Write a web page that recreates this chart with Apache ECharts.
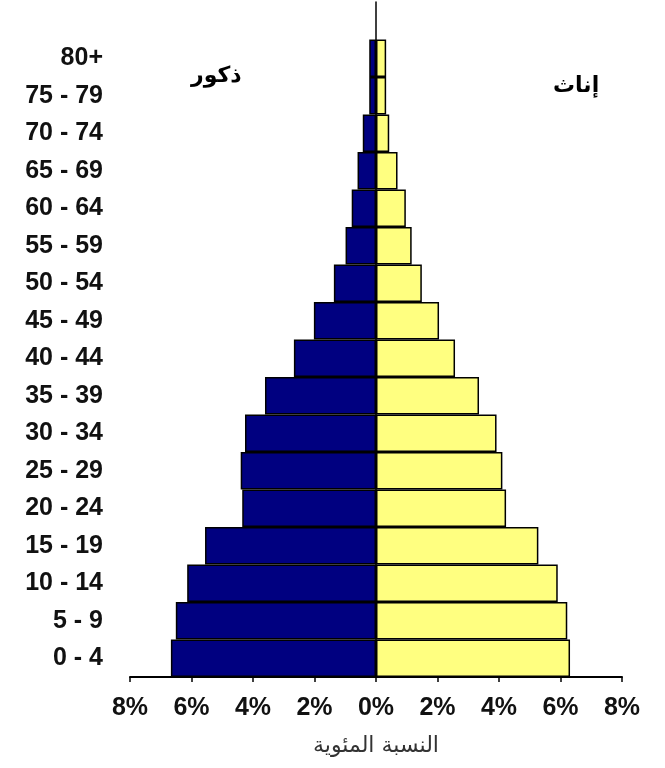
<!DOCTYPE html>
<html>
<head>
<meta charset="utf-8">
<script src="https://cdn.jsdelivr.net/npm/echarts@6/dist/echarts.min.js"></script>
<style>
  html, body { margin: 0; padding: 0; background: #fff; }
  #chart { width: 665px; height: 768px; }
</style>
</head>
<body>
<div id="chart"></div>
<script>
// الفئات العمرية من الأسفل إلى الأعلى
const ageGroups = ['0 - 4', '5 - 9', '10 - 14', '15 - 19', '20 - 24', '25 - 29', '30 - 34', '35 - 39',
  '40 - 44', '45 - 49', '50 - 54', '55 - 59', '60 - 64', '65 - 69', '70 - 74', '75 - 79', '80+']
// النسب المئوية
const males = [6.67, 6.51, 6.14, 5.56, 4.35, 4.40, 4.26, 3.61, 2.67, 2.02, 1.37, 0.99, 0.79, 0.60, 0.43, 0.22, 0.22]
const females = [6.31, 6.22, 5.91, 5.28, 4.23, 4.11, 3.92, 3.35, 2.57, 2.05, 1.49, 1.16, 0.97, 0.70, 0.43, 0.33, 0.33]
const xTicks = [-8, 8, 2]  // min, max, interval

const chart = echarts.init(document.getElementById('chart'))

// empty slot on top so the centre line runs above the 80+ bar
const cats = ageGroups.concat([''])
const maleData = males.map(v => -v).concat([null])
const femaleData = females.concat([null])

const font = 'Liberation Sans, Arial, DejaVu Sans, sans-serif'

const option = {
  backgroundColor: '#fff',
  animation: false,
  title: [
    { text: 'ذكور', left: 186, top: 60, textStyle: { fontSize: 22, fontWeight: 'bold', color: '#000', fontFamily: 'DejaVu Sans, sans-serif' } },
    { text: 'إناث', left: 548, top: 70, textStyle: { fontSize: 22, fontWeight: 'bold', color: '#000', fontFamily: 'DejaVu Sans, sans-serif' } }
  ],
  grid: { left: 130, right: 43, top: 2, bottom: 91, containLabel: false, outerBoundsMode: 'none' },
  xAxis: {
    type: 'value',
    min: xTicks[0],
    max: xTicks[1],
    interval: xTicks[2],
    splitLine: { show: false },
    axisLine: { show: true, lineStyle: { color: '#000', width: 2 } },
    axisTick: { show: true, length: 5, lineStyle: { color: '#000', width: 1.5 } },
    axisLabel: {
      formatter: v => Math.abs(v) + '%',
      fontSize: 25, fontWeight: 'bold', color: '#111', fontFamily: font, margin: 19,
      showMinLabel: true, showMaxLabel: true, hideOverlap: false
    },
    name: 'النسبة المئوية',
    nameLocation: 'middle',
    nameGap: 58,
    nameTextStyle: { fontSize: 22, color: '#333', fontFamily: 'DejaVu Sans, sans-serif' }
  },
  yAxis: {
    type: 'category',
    data: cats,
    axisLine: { show: true, onZero: true, lineStyle: { color: '#000', width: 1.5 } },
    axisTick: { show: false },
    axisLabel: {
      margin: 27,
      fontSize: 25, fontWeight: 'bold', color: '#111', fontFamily: font
    }
  },
  series: [
    {
      name: 'ذكور',
      type: 'bar',
      stack: 'pop',
      barCategoryGap: '0%',
      data: maleData,
      itemStyle: { color: '#000080', borderColor: '#000', borderWidth: 1.5 }
    },
    {
      name: 'إناث',
      type: 'bar',
      stack: 'pop',
      barCategoryGap: '0%',
      data: femaleData,
      itemStyle: { color: '#ffff80', borderColor: '#000', borderWidth: 1.5 }
    }
  ]
}

chart.setOption(option)
</script>
</body>
</html>
